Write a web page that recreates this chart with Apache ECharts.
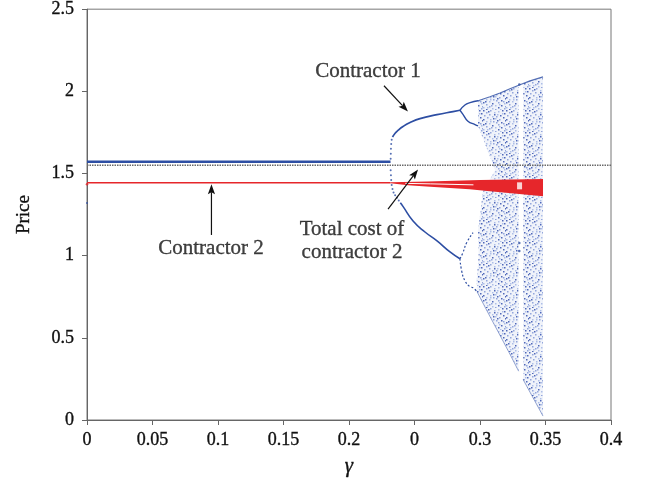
<!DOCTYPE html>
<html>
<head>
<meta charset="utf-8">
<script src="https://cdn.jsdelivr.net/npm/echarts@6/dist/echarts.min.js"></script>
<style>html,body{margin:0;padding:0;background:#fff}#c{width:647px;height:493px}</style>
</head>
<body>
<div id="c"></div>
<script>
// ---- tick labels ----
const xTickLabels = ['0','0.05','0.1','0.15','0.2','0','0.3','0.35','0.4'];
const yTickLabels = ['0','0.5','1','1.5','2','2.5'];

// ---- data (gamma, price) ----
const blueFixed = [[0,1.571],[0.2317,1.571]];
const redFixed = [[0,1.443],[0.2317,1.443]];
const referenceLine = [[0,1.55],[0.4,1.55]];
const blueStartDots = [[0,1.32]];
const redStartDots = [[0,1.435]];

const upperBranchDots = [[0.2318,1.590],[0.2319,1.620],[0.2320,1.650],[0.2322,1.680],[0.2326,1.705]];
const upperBranch = [[0.2332,1.722],[0.2352,1.745],[0.2374,1.762],[0.2412,1.786],[0.2466,1.810],[0.2542,1.834],[0.2672,1.858],[0.2794,1.877],[0.2847,1.885]];
const upperEyeTop = [[0.2847,1.885],[0.2885,1.917],[0.2924,1.931],[0.2985,1.943]];
const upperEyeBottom = [[0.2847,1.885],[0.2870,1.860],[0.2908,1.818],[0.2962,1.798],[0.2985,1.790]];

const lowerBranchDots = [[0.2318,1.520],[0.2320,1.490],[0.2322,1.460],[0.2326,1.430],[0.2332,1.405],[0.2340,1.385],[0.2352,1.368],[0.2366,1.352],[0.2380,1.335]];
const lowerBranch = [[0.2392,1.322],[0.2412,1.300],[0.2489,1.211],[0.2580,1.144],[0.2672,1.090],[0.2771,1.023],[0.2847,0.981]];
const lowerEyeTop = [[0.2847,0.981],[0.2870,1.019],[0.2898,1.079],[0.2947,1.140]];
const lowerEyeBottom = [[0.2847,0.981],[0.2860,0.908],[0.2885,0.847],[0.2924,0.811],[0.2947,0.805],[0.2977,0.781]];

const chaosLeft = [[0.2985,1.943],[0.3076,1.967],[0.3153,1.990],[0.3229,2.016],[0.3295,2.037],[0.3295,0.297],[0.3229,0.400],[0.3153,0.515],[0.3076,0.630],[0.2977,0.781],[0.2975,0.850],[0.2990,1.000],[0.2985,1.150],[0.3023,1.390],[0.3115,1.520],[0.3030,1.700],[0.2985,1.790]];
const chaosRight = [[0.3330,2.048],[0.3382,2.064],[0.3481,2.088],[0.3481,0.024],[0.3382,0.169],[0.3330,0.245]];
const chaosTopEdge = [[0.2985,1.943],[0.3076,1.967],[0.3153,1.990],[0.3229,2.016],[0.3305,2.040],[0.3382,2.064],[0.3481,2.088]];
const chaosBottomEdgeA = [[0.2977,0.781],[0.3076,0.630],[0.3153,0.515],[0.3229,0.400],[0.3295,0.297]];
const chaosBottomEdgeB = [[0.3330,0.245],[0.3382,0.169],[0.3481,0.024]];
const windowDots = [[0.3300,1.077],[0.3300,1.029],[0.3300,2.042]];

const redTop = [[0.2317,1.447],[0.2600,1.452],[0.3000,1.460],[0.3481,1.466]];
const redBottom = [[0.2317,1.440],[0.2450,1.428],[0.2620,1.420],[0.2920,1.404],[0.3076,1.392],[0.3481,1.362]];
const redInnerGap = [[0.2430,1.440],[0.2620,1.437],[0.2950,1.431]];
const redHole = [[0.3302,1.425]];

// ---- annotations ----
const annotationTexts = [
  {name:'Contractor 1', value:[0.2145,2.119]},
  {name:'Contractor 2', value:[0.0947,1.041]},
  {name:'Total cost of\ncontractor 2', value:[0.2023,1.092]}
];
const annotationArrows = [
  [[0.2267,2.034],[0.2450,1.877]],
  [[0.0950,1.126],[0.0950,1.435]],
  [[0.2298,1.283],[0.2527,1.525]]
];

// ---- style: dotted texture tile for the chaotic band ----
const tileDots = [[0,0],[7,0],[15,1],[19,0],[3,2],[11,2],[21,3],[6,4],[14,4],[17,5],[1,5],
  [9,6],[20,7],[4,7],[12,8],[0,9],[16,9],[7,9],[22,10],[10,11],[3,11],[18,12],[13,12],
  [6,13],[0,14],[15,14],[21,15],[9,15],[3,16],[12,17],[18,17],[6,18],[0,19],[15,19],[21,20],
  [9,20],[3,21],[12,21],[17,21],[5,1],[13,6],[19,3],[2,13],[8,17],[16,16],[11,4],[22,18],
  [4,19],[14,10],[20,13],[7,11],[10,8]];
const TW = 23, TH = 22;
const tile = document.createElement('canvas');
tile.width = TW; tile.height = TH;
const tctx = tile.getContext('2d');
tctx.fillStyle = 'rgba(110,135,210,0.10)';
tctx.fillRect(0,0,TW,TH);
tileDots.forEach((d,i)=>{
  tctx.fillStyle = i%3===0 ? 'rgba(40,70,170,0.8)' : (i%3===1 ? 'rgba(85,115,200,0.6)' : 'rgba(120,145,215,0.55)');
  tctx.fillRect(d[0], d[1], 1.5, 1.5);
});
const chaosFill = {image: tile, repeat: 'repeat'};

const BLUE = '#2d4ea3';
const RED = '#e6262b';
const FONT = 'Liberation Serif';
const INK = '#111';
const inkText = {color:INK, textBorderColor:INK, textBorderWidth:0.35};

function lineS(data, color, width, z, extra) {
  return Object.assign({type:'line', data, showSymbol:false, symbol:'none', z,
    lineStyle:{color, width}, silent:true, animation:false}, extra||{});
}
function dotsS(data, color, size, z, symbol) {
  return {type:'scatter', data, symbol: symbol||'circle', symbolSize:size, z, silent:true, animation:false,
    itemStyle:{color}};
}
function polyS(verts, fill, z) {
  return {type:'custom', z, silent:true, animation:false, data:[[verts[0][0], verts[0][1]]],
    renderItem: function(params, api){
      return {type:'polygon', shape:{points: verts.map(p=>api.coord(p))}, style:{fill: fill, stroke: null}};
    }};
}
function arrowS(arrows, z) {
  return {type:'custom', z, silent:true, animation:false, clip:false,
    data: arrows.map(a=>[a[0][0], a[0][1], a[1][0], a[1][1]]),
    renderItem: function(params, api){
      const p0 = api.coord([api.value(0), api.value(1)]);
      const p1 = api.coord([api.value(2), api.value(3)]);
      const dx = p1[0]-p0[0], dy = p1[1]-p0[1];
      const L = Math.sqrt(dx*dx+dy*dy), ux = dx/L, uy = dy/L;
      const hl = 10, hw = 3.6;
      const bx = p1[0]-ux*hl, by = p1[1]-uy*hl;
      return {type:'group', children:[
        {type:'line', shape:{x1:p0[0], y1:p0[1], x2:bx+ux*2, y2:by+uy*2}, style:{stroke:INK, lineWidth:1.2}},
        {type:'polygon', shape:{points:[[p1[0],p1[1]],[bx-uy*hw, by+ux*hw],[bx+ux*2, by+uy*2],[bx+uy*hw, by-ux*hw]]}, style:{fill:INK}}
      ]};
    }};
}

const chart = echarts.init(document.getElementById('c'), null, {renderer:'canvas'});
chart.setOption({
  animation:false,
  grid:{left:87, right:36, top:7, bottom:73, show:true, borderColor:'#777', borderWidth:1},
  xAxis:{type:'value', min:0, max:0.4, interval:0.05,
    name:'γ', nameLocation:'middle', nameGap:36,
    nameTextStyle:Object.assign({fontFamily:FONT, fontStyle:'italic', fontSize:21}, inkText),
    axisLine:{lineStyle:{color:'#666', width:1}},
    axisTick:{length:5, lineStyle:{color:'#666'}},
    splitLine:{show:false},
    axisLabel:Object.assign({fontFamily:FONT, fontSize:18, margin:11,
      formatter:(v)=>xTickLabels[Math.round(v/0.05)]}, inkText)},
  yAxis:{type:'value', min:0, max:2.5, interval:0.5,
    name:'Price', nameLocation:'middle', nameGap:53,
    nameTextStyle:Object.assign({fontFamily:FONT, fontSize:19}, inkText),
    axisLine:{show:true, lineStyle:{color:'#666', width:1}},
    axisTick:{show:true, length:5, lineStyle:{color:'#666'}},
    splitLine:{show:false},
    axisLabel:Object.assign({fontFamily:FONT, fontSize:18, margin:13,
      formatter:(v)=>yTickLabels[Math.round(v/0.5)]}, inkText)},
  series:[
    polyS(chaosLeft, chaosFill, 1),
    polyS(chaosRight, chaosFill, 1),
    lineS(chaosTopEdge, 'rgba(45,78,163,0.8)', 1.2, 2),
    lineS(chaosBottomEdgeA, 'rgba(45,78,163,0.5)', 1, 2),
    lineS(chaosBottomEdgeB, 'rgba(45,78,163,0.5)', 1, 2),
    dotsS(windowDots, BLUE, 2.5, 2),
    lineS(blueFixed, BLUE, 2.5, 3),
    dotsS(blueStartDots, BLUE, 2, 3),
    dotsS(upperBranchDots, BLUE, 2, 3),
    lineS(upperBranch, BLUE, 1.7, 3, {smooth:true}),
    lineS(upperEyeTop, BLUE, 1.4, 3, {smooth:true}),
    lineS(upperEyeBottom, BLUE, 1.4, 3, {smooth:true}),
    dotsS(lowerBranchDots, BLUE, 2, 3),
    lineS(lowerBranch, BLUE, 1.6, 3, {smooth:true}),
    lineS(lowerEyeTop, BLUE, 1.2, 3, {smooth:true, lineStyle:{color:BLUE, width:1.2, type:[2,2]}}),
    lineS(lowerEyeBottom, BLUE, 1.2, 3, {smooth:true, lineStyle:{color:BLUE, width:1.2, type:[2,2]}}),
    lineS(redFixed, RED, 1.5, 4),
    dotsS(redStartDots, RED, 2.5, 4),
    polyS(redTop.concat(redBottom.slice().reverse()), RED, 4),
    lineS(redInnerGap, '#ffffff', 1, 5),
    dotsS(redHole, '#ffffff', [5,7], 5, 'rect'),
    lineS(referenceLine, '#666', 1.6, 6, {lineStyle:{color:'#6a6a6a', width:1.6, type:[1.5,1]}}),
    arrowS(annotationArrows, 7),
    {type:'scatter', data:annotationTexts, symbolSize:0, z:7, silent:true, animation:false,
      label:Object.assign({show:true, position:'inside', formatter:'{b}', fontFamily:FONT, fontSize:21, lineHeight:23, align:'center'}, inkText)}
  ]
});
</script>
</body>
</html>
